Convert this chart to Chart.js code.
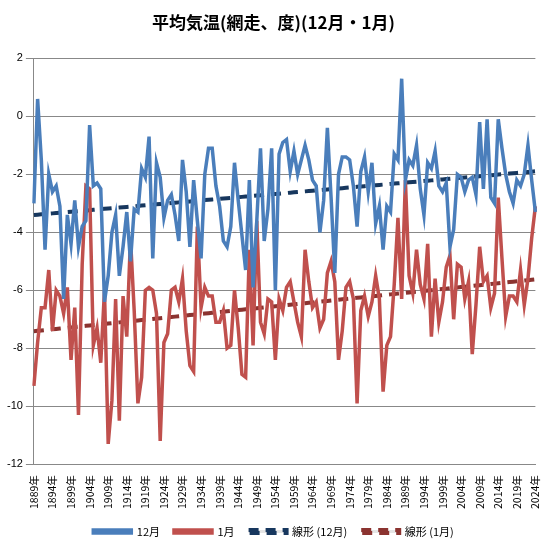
<!DOCTYPE html>
<html><head><meta charset="utf-8">
<script src="https://cdn.jsdelivr.net/npm/chart.js@4"></script>
<style>html,body{margin:0;padding:0;background:#fff}#w{width:551px;height:551px}</style>
</head><body><div id="w"><canvas id="c"></canvas></div>
<script>
const years=[];for(let y=1889;y<=2024;y++)years.push(y+'年');
const dec=[-3.0,0.6,-1.5,-4.6,-2.0,-2.6,-2.4,-3.1,-6.3,-3.4,
-4.4,-2.9,-4.5,-3.8,-3.6,-0.3,-2.4,-2.3,-2.5,-6.4,
-5.5,-4.0,-3.4,-5.5,-4.5,-3.3,-5.0,-3.2,-3.3,-1.8,
-2.1,-0.7,-4.9,-1.6,-2.1,-3.5,-2.9,-2.7,-3.4,-4.3,
-1.5,-2.6,-4.5,-2.2,-3.6,-4.9,-2.0,-1.1,-1.1,-2.4,
-3.1,-4.3,-4.5,-3.8,-1.6,-2.9,-4.1,-5.3,-2.2,-5.9,
-3.6,-1.1,-4.3,-3.2,-1.1,-6.0,-1.3,-0.9,-0.8,-1.9,
-1.2,-2.0,-1.5,-1.0,-1.5,-2.2,-2.4,-4.0,-2.9,-0.4,
-2.8,-5.4,-2.0,-1.4,-1.4,-1.5,-2.4,-3.8,-1.9,-1.4,
-2.6,-1.6,-3.7,-3.1,-4.6,-3.1,-3.3,-1.3,-1.5,1.3,
-2.2,-1.5,-1.7,-1.0,-2.5,-3.4,-1.6,-1.8,-1.2,-2.4,
-2.6,-2.3,-4.5,-3.9,-2.0,-2.1,-2.6,-2.2,-2.1,-2.7,
-0.2,-2.5,-0.1,-2.8,-3.0,-0.1,-1.1,-2.0,-2.6,-3.0,
-2.2,-2.4,-2.0,-1.0,-2.2,-3.3];
const jan=[-9.3,-7.8,-6.6,-6.6,-5.3,-7.4,-6.0,-6.2,-6.8,-5.9,
-8.4,-6.6,-10.3,-5.1,-2.4,-2.5,-7.9,-7.3,-8.5,-6.0,
-11.3,-9.8,-6.3,-10.5,-6.2,-7.6,-4.2,-6.7,-9.9,-9.0,
-6.0,-5.9,-6.0,-6.8,-11.2,-7.8,-7.5,-6.0,-5.9,-6.4,
-5.6,-7.4,-8.6,-8.8,-3.8,-6.6,-5.9,-6.2,-6.2,-7.1,
-7.1,-6.7,-8.0,-7.9,-6.0,-7.3,-8.9,-9.0,-4.6,-7.9,
-3.6,-7.1,-7.5,-6.3,-6.4,-8.4,-6.3,-6.7,-5.9,-5.7,
-6.4,-7.1,-7.6,-4.6,-5.7,-6.6,-6.4,-7.3,-7.0,-5.4,
-5.0,-5.7,-8.4,-7.4,-5.9,-5.7,-6.3,-9.9,-6.7,-6.2,
-6.9,-6.4,-5.5,-6.3,-9.5,-7.9,-7.6,-5.8,-3.5,-6.3,
-2.2,-5.5,-6.1,-4.6,-5.8,-6.3,-4.4,-7.6,-5.6,-7.1,
-6.4,-5.2,-4.8,-7.0,-5.1,-5.2,-6.3,-5.7,-8.2,-6.5,
-4.5,-5.7,-5.5,-6.6,-6.1,-2.8,-4.9,-6.9,-6.2,-6.2,
-6.4,-5.3,-6.5,-5.6,-4.2,-3.1];
function trend(a){const n=a.length;let sx=0,sy=0,sxx=0,sxy=0;a.forEach((v,i)=>{sx+=i;sy+=v;sxx+=i*i;sxy+=i*v});const b=(n*sxy-sx*sy)/(n*sxx-sx*sx),c=(sy-b*sx)/n;return a.map((v,i)=>c+b*i);}
new Chart(document.getElementById('c'),{type:'line',
data:{labels:years,datasets:[
{label:'12月',data:dec,borderColor:'#4a7ebb',borderWidth:3.5,pointRadius:0,tension:0},
{label:'1月',data:jan,borderColor:'#c0504d',borderWidth:3.5,pointRadius:0,tension:0},
{label:'線形 (12月)',data:trend(dec),borderColor:'#17375e',borderWidth:4,borderDash:[10,7],pointRadius:0},
{label:'線形 (1月)',data:trend(jan),borderColor:'#8b3330',borderWidth:4,borderDash:[10,7],pointRadius:0}]},
options:{responsive:true,maintainAspectRatio:false,animation:false,
layout:{padding:{left:4,right:8,top:4,bottom:4}},
plugins:{title:{display:true,text:'平均気温(網走、度)(12月・1月)',font:{size:17,weight:'bold',family:'Noto Sans CJK JP'},color:'#000',padding:{top:8,bottom:26}},
legend:{position:'bottom',labels:{boxWidth:38,boxHeight:3,font:{size:11,family:'Noto Sans CJK JP'},color:'#000',padding:14}}},
scales:{x:{grid:{display:false},border:{color:'#888'},ticks:{autoSkip:false,maxRotation:90,minRotation:90,font:{size:10.5,family:'Noto Sans CJK JP'},color:'#000',callback:function(v,i){return i%5===0?this.getLabelForValue(v):''}}},
y:{min:-12,max:2,ticks:{stepSize:2,font:{size:11},color:'#000'},grid:{color:'#888'},border:{color:'#888'}}}}});
</script></body></html>
